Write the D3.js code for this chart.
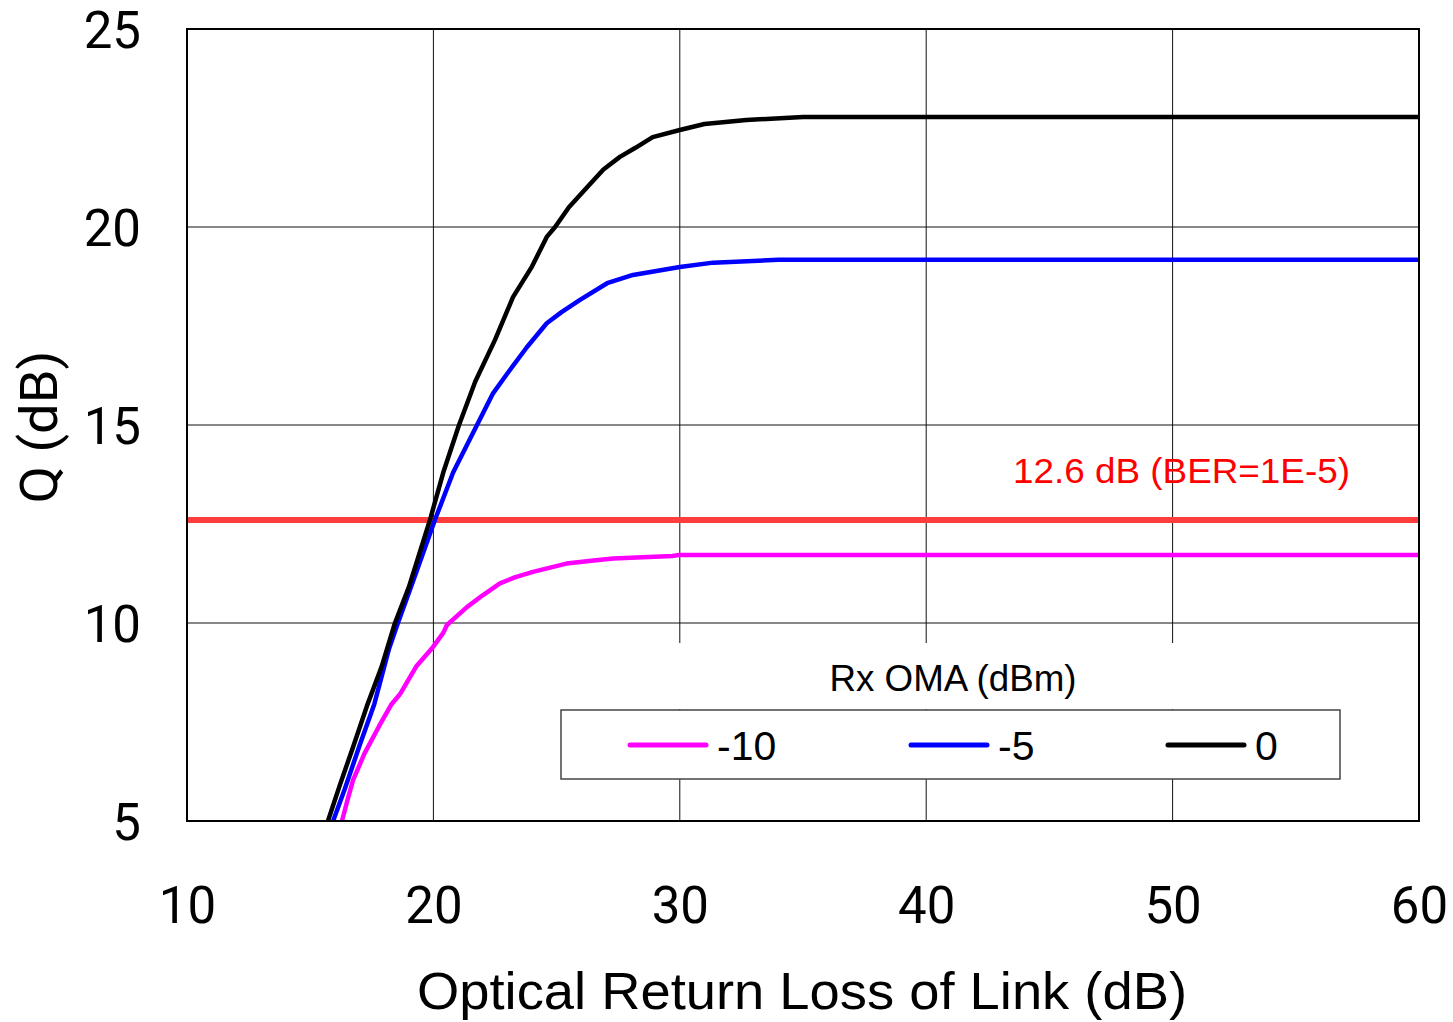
<!DOCTYPE html>
<html><head><meta charset="utf-8">
<script src="https://cdn.jsdelivr.net/npm/d3@7"></script>
<style>body{margin:0;background:#fff}</style>
</head><body>
<svg id="c" width="1453" height="1022"></svg>
<script>
const xTicks = [10,20,30,40,50,60];
const yTicks = [5,10,15,20,25];
const seriesNames = ["-10","-5","0"];
const seriesColors = ["#ff00ff","#0000ff","#000000"];
const xM10 = [16.29,16.5,16.74,17.2,17.8,18.3,18.64,19.3,19.98,20.4,20.55,21.36,22.0,22.7,23.3,24.04,25.4,26.5,27.3,29.7,30,60];
const yM10 = [5,5.5,6.03,6.7,7.4,7.95,8.2,8.9,9.39,9.75,9.95,10.4,10.7,11.0,11.15,11.29,11.5,11.58,11.63,11.69,11.72,11.72];
const xM5 = [15.93,16.4,17.0,17.6,18.2,18.56,19.2,20.06,20.8,21.77,22.42,23.0,23.8,24.6,25.2,25.95,27.05,28.1,30,31.35,34,60];
const yM5 = [5,5.8,6.9,7.95,9.35,10,11.1,12.6,13.8,15,15.8,16.3,16.97,17.57,17.85,18.16,18.58,18.79,18.99,19.1,19.17,19.17];
const x0 = [15.72,16.2,16.74,17.3,17.9,18.44,19.0,19.86,20.4,21.04,21.7,22.5,23.23,24.0,24.6,24.94,25.5,26.23,26.9,27.57,28.2,28.9,30,31,32.7,35,60];
const y0 = [5,5.9,6.87,7.9,8.9,10,10.9,12.6,13.8,15,16.1,17.15,18.23,19.0,19.75,20.0,20.5,21.0,21.45,21.77,22.0,22.27,22.45,22.6,22.7,22.78,22.78];
const berLevel = 12.6;
const berLabel = "12.6 dB (BER=1E-5)";

const svg = d3.select("#c");
const L=187,R=1419,T=29,B=821;
const x = d3.scaleLinear().domain([10,60]).range([L,R]);
const y = d3.scaleLinear().domain([5,25]).range([B,T]);

// grid
svg.append("g").selectAll("line").data(xTicks.slice(1,-1)).join("line")
  .attr("x1",d=>x(d)).attr("x2",d=>x(d)).attr("y1",T).attr("y2",B)
  .attr("stroke","#111").attr("stroke-width",1);
svg.append("g").selectAll("line").data(yTicks.slice(1,-1)).join("line")
  .attr("y1",d=>y(d)).attr("y2",d=>y(d)).attr("x1",L).attr("x2",R)
  .attr("stroke","#111").attr("stroke-width",1);

// axes labels
const xa = svg.append("g").attr("transform",`translate(0,${B})`)
  .call(d3.axisBottom(x).tickValues(xTicks).tickSize(0).tickPadding(0).tickFormat(d3.format("d")));
xa.select(".domain").remove();
xa.selectAll("text").attr("font-family","Roboto").attr("font-size",51).attr("fill","#000").attr("dy",0).attr("y",102);
const ya = svg.append("g").attr("transform",`translate(${L},0)`)
  .call(d3.axisLeft(y).tickValues(yTicks).tickSize(0).tickPadding(0).tickFormat(d3.format("d")));
ya.select(".domain").remove();
ya.selectAll("text").attr("font-family","Roboto").attr("font-size",51).attr("fill","#000").attr("x",-46).attr("dy","0.36em");

svg.append("text").attr("x",802).attr("y",1009).attr("text-anchor","middle")
  .attr("font-family","Liberation Sans").attr("font-size",52)
  .attr("textLength",770).attr("lengthAdjust","spacingAndGlyphs")
  .text("Optical Return Loss of Link (dB)");
svg.append("text").attr("transform","translate(57,427) rotate(-90)").attr("text-anchor","middle")
  .attr("font-family","Roboto").attr("font-size",52)
  .attr("textLength",153).attr("lengthAdjust","spacingAndGlyphs").text("Q (dB)");

// BER line
svg.append("line").attr("x1",L).attr("x2",R).attr("y1",y(berLevel)).attr("y2",y(berLevel))
  .attr("stroke","#ff3d3d").attr("stroke-width",6);
svg.append("text").attr("x",1350).attr("y",483).attr("text-anchor","end")
  .attr("font-family","Liberation Sans").attr("font-size",35).attr("fill","#ff0000")
  .attr("textLength",337).attr("lengthAdjust","spacingAndGlyphs").text(berLabel);

// curves
const line = d3.line().x(d=>x(d[0])).y(d=>y(d[1]));
const series = [[xM10,yM10],[xM5,yM5],[x0,y0]];
series.forEach((s,i)=>{
  const pts = s[0].map((v,j)=>[v,s[1][j]]);
  svg.append("path").attr("d",line(pts)).attr("fill","none")
    .attr("stroke",seriesColors[i]).attr("stroke-width",4.5).attr("stroke-linejoin","round");
});

// legend
svg.append("rect").attr("x",561).attr("y",643).attr("width",780).attr("height",66).attr("fill","#fff");
svg.append("text").attr("x",953).attr("y",691).attr("text-anchor","middle")
  .attr("font-family","Liberation Sans").attr("font-size",37)
  .attr("textLength",247).attr("lengthAdjust","spacingAndGlyphs").text("Rx OMA (dBm)");
svg.append("rect").attr("x",561).attr("y",710).attr("width",779).attr("height",69)
  .attr("fill","#fff").attr("stroke","#444").attr("stroke-width",1.5);
const legX = [630,911,1168];
seriesNames.forEach((n,i)=>{
  svg.append("line").attr("x1",legX[i]).attr("x2",legX[i]+76).attr("y1",745).attr("y2",745)
    .attr("stroke",seriesColors[i]).attr("stroke-width",5).attr("stroke-linecap","round");
  svg.append("text").attr("x",legX[i]+87).attr("y",760).attr("font-family","Liberation Sans")
    .attr("font-size",41).text(n);
});

// frame
svg.append("rect").attr("x",L).attr("y",T).attr("width",R-L).attr("height",B-T)
  .attr("fill","none").attr("stroke","#000").attr("stroke-width",2);
</script>
</body></html>
